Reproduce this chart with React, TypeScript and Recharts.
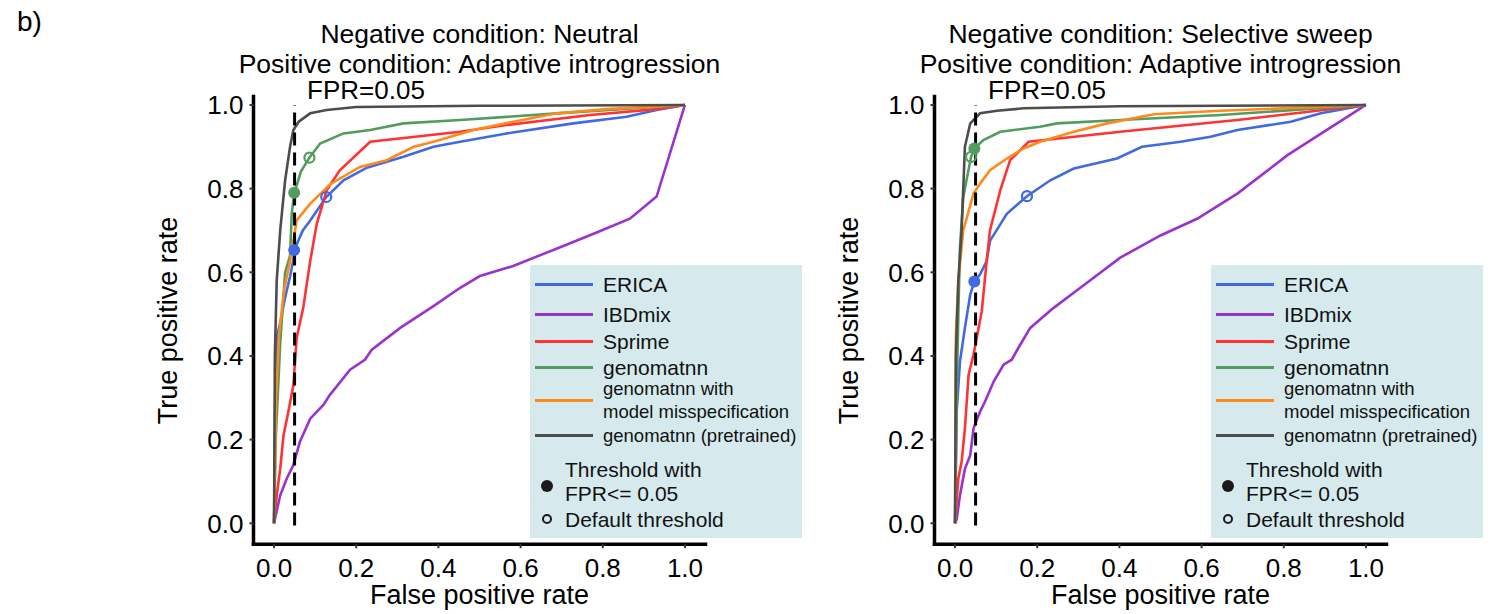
import { Line, LineChart, ReferenceDot, ReferenceLine, XAxis, YAxis } from "recharts";

const FONT = '"Liberation Sans", Arial, Helvetica, sans-serif';

// [fpr, tpr] pairs
const neutralErica = [
  [0, 0], [0.003, 0.3], [0.008, 0.45], [0.015, 0.48], [0.027, 0.54], [0.039, 0.59],
  [0.047, 0.63], [0.049, 0.653], [0.07, 0.7], [0.088, 0.724], [0.127, 0.78], [0.169, 0.82],
  [0.226, 0.85], [0.315, 0.876], [0.388, 0.9], [0.453, 0.912], [0.566, 0.932], [0.728, 0.956],
  [0.858, 0.972], [0.931, 0.988], [1, 1],
];
const neutralIbdmix = [
  [0, 0], [0.015, 0.067], [0.031, 0.107], [0.047, 0.139], [0.063, 0.195], [0.088, 0.25],
  [0.12, 0.283], [0.136, 0.307], [0.185, 0.367], [0.221, 0.391], [0.238, 0.415], [0.307, 0.467],
  [0.388, 0.519], [0.453, 0.563], [0.501, 0.591], [0.582, 0.615], [0.704, 0.663], [0.785, 0.695],
  [0.866, 0.728], [0.931, 0.781], [1, 1],
];
const neutralSprime = [
  [0, 0], [0.0065, 0.067], [0.015, 0.13], [0.023, 0.21], [0.035, 0.267], [0.047, 0.33],
  [0.055, 0.443], [0.071, 0.515], [0.088, 0.627], [0.104, 0.716], [0.128, 0.796], [0.16, 0.844],
  [0.234, 0.912], [0.453, 0.936], [0.566, 0.952], [0.769, 0.976], [0.931, 0.99], [1, 1],
];
const neutralGenomatnn = [
  [0, 0], [0.004, 0.2], [0.015, 0.43], [0.027, 0.6], [0.039, 0.64], [0.043, 0.74], [0.049, 0.79],
  [0.056, 0.81], [0.065, 0.84], [0.086, 0.874], [0.112, 0.908], [0.169, 0.932], [0.234, 0.94],
  [0.315, 0.956], [0.453, 0.964], [0.688, 0.98], [1, 1],
];
const neutralMisspec = [
  [0, 0], [0.005, 0.3], [0.012, 0.45], [0.025, 0.56], [0.039, 0.627], [0.055, 0.724],
  [0.088, 0.764], [0.136, 0.81], [0.209, 0.852], [0.274, 0.868], [0.34, 0.9], [0.388, 0.912],
  [0.485, 0.94], [0.582, 0.96], [0.688, 0.98], [0.81, 0.99], [1, 1],
];
const neutralPretrained = [
  [0, 0], [0.002, 0.4], [0.0065, 0.58], [0.015, 0.7], [0.027, 0.82], [0.039, 0.9], [0.047, 0.94],
  [0.06, 0.96], [0.088, 0.98], [0.128, 0.988], [0.2, 0.995], [0.5, 0.998], [1, 1],
];

const sweepErica = [
  [0, 0], [0.004, 0.267], [0.012, 0.387], [0.024, 0.467], [0.037, 0.547], [0.047, 0.578],
  [0.061, 0.595], [0.077, 0.627], [0.085, 0.675], [0.126, 0.74], [0.175, 0.782], [0.232, 0.82],
  [0.289, 0.848], [0.394, 0.872], [0.455, 0.9], [0.549, 0.912], [0.622, 0.924], [0.687, 0.94],
  [0.817, 0.96], [0.89, 0.98], [1, 1],
];
const sweepIbdmix = [
  [0, 0], [0.004, 0.01], [0.012, 0.067], [0.024, 0.13], [0.037, 0.163], [0.045, 0.227],
  [0.061, 0.267], [0.073, 0.291], [0.094, 0.339], [0.118, 0.379], [0.138, 0.391], [0.154, 0.419],
  [0.183, 0.467], [0.24, 0.515], [0.305, 0.563], [0.402, 0.635], [0.5, 0.688], [0.589, 0.728],
  [0.687, 0.788], [0.809, 0.88], [1, 1],
];
const sweepSprime = [
  [0, 0], [0.008, 0.107], [0.016, 0.147], [0.024, 0.227], [0.033, 0.355], [0.045, 0.403],
  [0.065, 0.507], [0.077, 0.627], [0.085, 0.7], [0.11, 0.796], [0.134, 0.868], [0.179, 0.912],
  [0.402, 0.936], [0.687, 0.964], [1, 1],
];
const sweepGenomatnn = [
  [0, 0], [0.004, 0.3], [0.008, 0.5], [0.012, 0.66], [0.02, 0.78], [0.039, 0.876], [0.047, 0.896],
  [0.069, 0.916], [0.11, 0.936], [0.207, 0.948], [0.248, 0.956], [0.402, 0.964], [0.646, 0.976],
  [1, 1],
];
const sweepMisspec = [
  [0, 0], [0.002, 0.45], [0.008, 0.58], [0.02, 0.7], [0.045, 0.788], [0.061, 0.812],
  [0.085, 0.844], [0.126, 0.872], [0.167, 0.896], [0.207, 0.912], [0.289, 0.936], [0.37, 0.956],
  [0.484, 0.978], [0.646, 0.986], [1, 1],
];
const sweepPretrained = [
  [0, 0], [0.002, 0.4], [0.008, 0.58], [0.016, 0.7], [0.024, 0.9], [0.037, 0.956], [0.061, 0.98],
  [0.102, 0.986], [0.167, 0.992], [0.4, 0.997], [1, 1],
];

// threshold points: [methodIndex, fpr, tpr]
const neutralFprCut = [[3, 0.049, 0.79], [0, 0.049, 0.653]];
const neutralDefault = [[3, 0.086, 0.874], [0, 0.127, 0.78]];
const sweepFprCut = [[3, 0.047, 0.896], [0, 0.047, 0.578]];
const sweepDefault = [[3, 0.039, 0.876], [0, 0.175, 0.782]];

const METHOD_LABELS = [
  "ERICA",
  "IBDmix",
  "Sprime",
  "genomatnn",
  "genomatnn with\nmodel misspecification",
  "genomatnn (pretrained)",
];
const METHOD_COLORS = ["#4169e1", "#9a32cd", "#ff3333", "#519c5e", "#ff8a1c", "#4d4d4d"];
const TICKS = [0, 0.2, 0.4, 0.6, 0.8, 1];

const toPts = (pairs: number[][]) => pairs.map(([fpr, tpr]) => ({ fpr, tpr }));

type PanelProps = {
  left: number;
  title: string[];
  curves: number[][][];
  fprCut: number[][];
  defaults: number[][];
};

function Legend() {
  const rows = [19, 49, 76, 102, 135, 170];
  return (
    <div
      style={{
        position: "absolute",
        left: 530,
        top: 265,
        width: 272,
        height: 273,
        background: "#d6eaed",
        fontFamily: FONT,
        color: "#111",
      }}
    >
      {METHOD_LABELS.map((label, i) => {
        const two = label.includes("\n");
        return (
          <div
            key={label}
            style={{
              position: "absolute",
              left: 5,
              top: rows[i] - 20,
              height: 40,
              display: "flex",
              alignItems: "center",
            }}
          >
            <span
              style={{
                display: "inline-block",
                width: 58,
                height: 3,
                background: METHOD_COLORS[i],
                marginRight: 10,
              }}
            />
            <span
              style={{
                fontSize: two || i === 5 ? 18.5 : 21,
                lineHeight: two ? "23px" : "21px",
                whiteSpace: "pre",
              }}
            >
              {label}
            </span>
          </div>
        );
      })}
      <div style={{ position: "absolute", left: 11, top: 215, width: 12, height: 12, borderRadius: 6, background: "#1a1a1a" }} />
      <div style={{ position: "absolute", left: 35, top: 193, fontSize: 21, lineHeight: "24px" }}>
        Threshold with
        <br />
        FPR{"<="} 0.05
      </div>
      <div
        style={{
          position: "absolute",
          left: 12,
          top: 249,
          width: 6,
          height: 6,
          borderRadius: 6,
          border: "2.5px solid #1a1a1a",
        }}
      />
      <div style={{ position: "absolute", left: 35, top: 243, fontSize: 21, lineHeight: "24px" }}>
        Default threshold
      </div>
    </div>
  );
}

function Panel({ left, title, curves, fprCut, defaults }: PanelProps) {
  const tickStyle = { fill: "#000", fontSize: 26, fontFamily: FONT };
  return (
    <div style={{ position: "absolute", left, top: 0, width: 810, height: 614 }}>
      {title.map((t, i) => (
        <div
          key={t}
          style={{
            position: "absolute",
            left: 0,
            width: 959,
            top: 24.2 + i * 30,
            textAlign: "center",
            fontSize: 26.5,
            lineHeight: "20px",
            fontFamily: FONT,
            whiteSpace: "nowrap",
          }}
        >
          {t}
        </div>
      ))}
      <div
        style={{
          position: "absolute",
          left: 266,
          width: 200,
          top: 81,
          textAlign: "center",
          fontSize: 26,
          lineHeight: "18px",
          fontFamily: FONT,
        }}
      >
        FPR=0.05
      </div>
      <LineChart
        width={749}
        height={614}
        margin={{ top: 96.6, right: 43.5, left: 0, bottom: 29.8 }}
        style={{ position: "absolute", left: 0, top: 0 }}
      >
        <XAxis
          type="number"
          dataKey="fpr"
          domain={[-0.05, 1.05]}
          allowDataOverflow
          ticks={TICKS}
          tickFormatter={(v) => Number(v).toFixed(1)}
          tick={tickStyle}
          axisLine={{ stroke: "#000", strokeWidth: 3.5, strokeLinecap: "square" }}
          tickLine={{ stroke: "#333", strokeWidth: 2 }}
          tickSize={4}
          tickMargin={10}
          height={40}
        />
        <YAxis
          type="number"
          dataKey="tpr"
          domain={[-0.05, 1.02]}
          allowDataOverflow
          ticks={TICKS}
          tickFormatter={(v) => Number(v).toFixed(1)}
          tick={tickStyle}
          axisLine={{ stroke: "#000", strokeWidth: 3.5, strokeLinecap: "square" }}
          tickLine={{ stroke: "#333", strokeWidth: 2 }}
          tickSize={4}
          tickMargin={6}
          width={253.5}
        />
        {curves.map((c, i) => (
          <Line
            key={METHOD_LABELS[i]}
            data={toPts(c)}
            dataKey="tpr"
            type="linear"
            stroke={METHOD_COLORS[i]}
            strokeWidth={2.6}
            dot={false}
            activeDot={false}
            isAnimationActive={false}
          />
        ))}
        <ReferenceLine
          segment={[
            { x: 0.05, y: -0.005 },
            { x: 0.05, y: 1 },
          ]}
          stroke="#000"
          strokeWidth={3}
          strokeDasharray="13 7"
        />
        {fprCut.map(([m, x, y]) => (
          <ReferenceDot
            key={`f${m}`}
            x={x}
            y={y}
            r={6}
            fill={METHOD_COLORS[m]}
            stroke="none"
          />
        ))}
        {defaults.map(([m, x, y]) => (
          <ReferenceDot
            key={`d${m}`}
            x={x}
            y={y}
            r={5}
            fill="none"
            stroke={METHOD_COLORS[m]}
            strokeWidth={2.2}
          />
        ))}
      </LineChart>
      <div
        style={{
          position: "absolute",
          left: 253.5,
          width: 452,
          top: 582,
          textAlign: "center",
          fontSize: 27,
          lineHeight: "27px",
          fontFamily: FONT,
        }}
      >
        False positive rate
      </div>
      <div
        style={{
          position: "absolute",
          left: 168 - 150,
          top: 320 - 13.5,
          width: 300,
          textAlign: "center",
          fontSize: 27,
          lineHeight: "27px",
          fontFamily: FONT,
          transform: "rotate(-90deg)",
          transformOrigin: "150px 13.5px",
        }}
      >
        True positive rate
      </div>
      <Legend />
    </div>
  );
}

export default function App() {
  return (
    <div
      style={{
        position: "absolute",
        left: 0,
        top: 0,
        width: 1498,
        height: 614,
        background: "#fff",
        overflow: "hidden",
        fontFamily: FONT,
      }}
    >
      <div style={{ position: "absolute", left: 17, top: 8, fontSize: 28, lineHeight: "28px" }}>b)</div>
      <Panel
        left={0}
        title={["Negative condition: Neutral", "Positive condition: Adaptive introgression"]}
        curves={[neutralErica, neutralIbdmix, neutralSprime, neutralGenomatnn, neutralMisspec, neutralPretrained]}
        fprCut={neutralFprCut}
        defaults={neutralDefault}
      />
      <Panel
        left={681}
        title={["Negative condition: Selective sweep", "Positive condition: Adaptive introgression"]}
        curves={[sweepErica, sweepIbdmix, sweepSprime, sweepGenomatnn, sweepMisspec, sweepPretrained]}
        fprCut={sweepFprCut}
        defaults={sweepDefault}
      />
    </div>
  );
}
